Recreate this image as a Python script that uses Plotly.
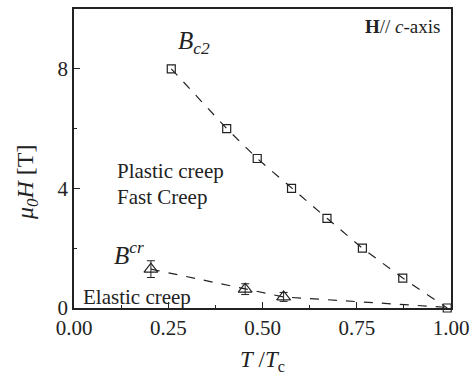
import plotly.graph_objects as go

# Data
bc2_x = [0.258, 0.405, 0.486, 0.577, 0.671, 0.765, 0.872, 0.99]
bc2_y = [8.0, 6.0, 5.0, 4.0, 3.0, 2.0, 1.0, 0.0]

bcr_x = [0.204, 0.454, 0.556]
bcr_y = [1.3, 0.63, 0.37]
bcr_err = [0.28, 0.18, 0.15]

bcr_line_x = [0.204, 0.454, 0.556, 0.99]
bcr_line_y = [1.3, 0.63, 0.37, 0.02]

x_ticks = [0.0, 0.25, 0.5, 0.75, 1.0]
x_labels = ["0.00", "0.25", "0.50", "0.75", "1.00"]
y_ticks = [0, 4, 8]
y_labels = ["0", "4", "8"]

FONT = "Liberation Serif, Times New Roman, DejaVu Serif, serif"
INK = "#222222"

fig = go.Figure()

fig.add_trace(go.Scatter(
    x=bc2_x, y=bc2_y, mode="lines+markers",
    line=dict(color=INK, width=1.2, dash="dash"),
    marker=dict(symbol="square-open", size=8, color=INK, line=dict(width=1.2)),
    showlegend=False, cliponaxis=False,
))

fig.add_trace(go.Scatter(
    x=bcr_line_x, y=bcr_line_y, mode="lines",
    line=dict(color=INK, width=1.2, dash="dash"),
    showlegend=False,
))

fig.add_trace(go.Scatter(
    x=bcr_x, y=bcr_y, mode="markers",
    marker=dict(symbol="triangle-up-open", size=12, color=INK, line=dict(width=1.2)),
    error_y=dict(type="data", array=bcr_err, visible=True, color=INK, thickness=1, width=4),
    showlegend=False,
))

annots = [
    dict(x=0.27, y=8.3, text="<i>B</i><sub><i>c2</i></sub>", xanchor="left", yanchor="bottom",
         font=dict(size=25)),
    dict(x=0.10, y=1.25, text="<i>B</i><sup><i>cr</i></sup>", xanchor="left", yanchor="bottom",
         font=dict(size=25)),
    dict(x=0.108, y=4.58, text="Plastic creep", xanchor="left", yanchor="middle", font=dict(size=21)),
    dict(x=0.108, y=3.72, text="Fast Creep", xanchor="left", yanchor="middle", font=dict(size=21)),
    dict(x=0.018, y=0.38, text="Elastic creep", xanchor="left", yanchor="middle", font=dict(size=21)),
    dict(x=0.975, y=9.4, text="<b>H</b>// <i>c</i>-axis", xanchor="right", yanchor="middle",
         font=dict(size=19)),
]
for a in annots:
    a.update(xref="x", yref="y", showarrow=False)
    a["font"].update(family=FONT, color=INK)
    fig.add_annotation(**a)

# y-axis title placed as a rotated annotation to match the reference position
fig.add_annotation(
    xref="paper", yref="paper", x=-0.123, y=0.42, xanchor="center", yanchor="middle",
    text="<i>μ<sub>0</sub>H</i> [T]", textangle=-90, showarrow=False,
    font=dict(size=24, family=FONT, color=INK),
)

fig.update_layout(
    width=476, height=382,
    margin=dict(l=74, r=19, t=7, b=74),
    paper_bgcolor="white", plot_bgcolor="white",
    font=dict(family=FONT, color=INK, size=20),
    xaxis=dict(
        range=[0, 1.0], tickvals=x_ticks, ticktext=x_labels,
        ticks="inside", ticklen=6, tickcolor=INK, tickwidth=1.2,
        minor=dict(dtick=0.125, tick0=0, ticks="inside", ticklen=3, tickcolor=INK),
        showline=True, linecolor=INK, linewidth=1.5, mirror=True,
        showgrid=False, zeroline=False,
        tickfont=dict(size=21, family=FONT),
        title=dict(text="<i>T</i> /<i>T</i><sub>c</sub>", font=dict(size=23, family=FONT), standoff=12),
    ),
    yaxis=dict(
        range=[0, 10], tickvals=y_ticks, ticktext=y_labels,
        ticks="inside", ticklen=6, tickcolor=INK, tickwidth=1.2,
        minor=dict(dtick=2, tick0=0, ticks="inside", ticklen=3, tickcolor=INK),
        showline=True, linecolor=INK, linewidth=1.5, mirror=True,
        showgrid=False, zeroline=False,
        tickfont=dict(size=21, family=FONT),
    ),
)

fig.write_html("out.html")
